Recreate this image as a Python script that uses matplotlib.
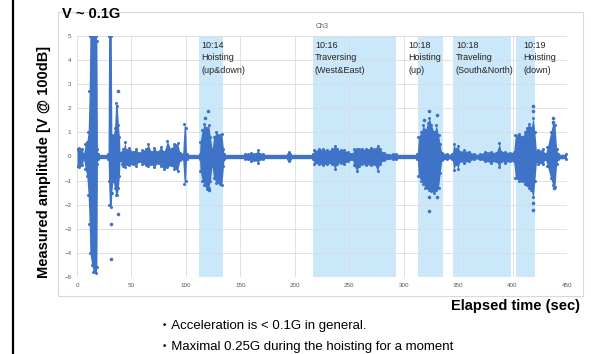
import numpy as np
import matplotlib
matplotlib.use("Agg")
import matplotlib.pyplot as plt
from matplotlib.patches import Rectangle
from matplotlib.lines import Line2D

plt.rcParams['font.family'] = ['Liberation Sans', 'Noto Sans CJK JP', 'DejaVu Sans']

BLUE = '#3f73c8'
SHADE = '#cbe8fb'

# envelope of the dense scatter: time, upper, lower
t_env = [0, 2, 5, 6, 7.5, 9, 10.2, 11.2, 11.8, 13.5, 15, 17.5, 18.3, 18.8, 19.2,
         28.5, 29, 29.7, 31.5, 32, 33, 34.5, 35.5, 37, 38, 39, 39.5,
         41, 42.5, 44, 45.5, 48, 51, 54, 57, 60, 63, 65.5, 68, 71, 74, 77, 80, 83, 86, 89, 92.5, 94.5, 97, 98.5, 99.8, 100.6,
         112.5, 113, 115, 117, 119, 121, 122.5, 124, 125.5, 128, 131, 133, 134.5, 135.2,
         154, 157, 160, 163, 166.5, 168, 171, 194, 195, 196, 216.5,
         218, 222, 226, 230, 234, 237, 239, 242, 245, 249, 251, 253, 254, 257, 259, 262, 265, 270, 273, 276, 278, 282, 290, 293,
         312.5, 313.5, 316, 318, 320, 322, 323.5, 325.5, 328, 330, 332, 333.5, 335, 340, 344.5,
         346, 348, 350, 351.5, 355, 360, 365, 370, 375, 380, 385, 388, 389.5, 393, 398, 401,
         402.5, 406, 409, 411, 413, 415, 417, 419, 420.5, 422, 423.5, 428, 430, 432, 435, 437, 439, 440.5, 442, 449.5]
up_env = [0.3, 0.35, 0.3, 0.1, 0.5, 0.6, 1.0, 2.7, 5, 5, 5, 5, 4.8, 0.3, 0.09,
          0.09, 5, 5, 5, 0.9, 0.8, 1.2, 2.2, 2.1, 1.3, 0.8, 0.15,
          0.2, 0.3, 0.6, 0.25, 0.35, 0.2, 0.3, 0.15, 0.25, 0.3, 0.5, 0.2, 0.35, 0.2, 0.4, 0.2, 0.65, 0.3, 0.5, 0.55, 0.15, 0.09, 1.35, 1.2, 0.09,
          0.09, 0.6, 1.1, 1.35, 1.2, 1.3, 0.8, 0.3, 0.8, 1.0, 0.9, 0.95, 0.3, 0.09,
          0.09, 0.12, 0.15, 0.12, 0.25, 0.1, 0.09, 0.09, 0.2, 0.09, 0.09,
          0.25, 0.3, 0.3, 0.25, 0.3, 0.45, 0.3, 0.25, 0.25, 0.2, 0.09, 0.09, 0.3, 0.3, 0.3, 0.3, 0.3, 0.35, 0.3, 0.45, 0.3, 0.15, 0.1, 0.09,
          0.09, 0.8, 1.0, 1.3, 1.1, 1.4, 1.6, 1.3, 1.0, 1.3, 0.9, 0.5, 0.15, 0.12, 0.09,
          0.5, 0.3, 0.45, 0.2, 0.25, 0.2, 0.1, 0.1, 0.2, 0.2, 0.15, 0.55, 0.2, 0.2, 0.15, 0.2,
          0.9, 0.95, 0.8, 1.0, 1.2, 1.35, 1.2, 1.6, 1.0, 0.2, 0.25, 0.3, 0.1, 0.4, 1.0, 1.4, 1.3, 0.3, 0.1, 0.09]
lo_env = [-0.4, -0.45, -0.35, -0.1, -0.5, -0.8, -1.6, -2.8, -4.0, -4.5, -4.8, -4.85, -4.6, -0.3, -0.09,
          -0.09, -1.0, -2.0, -2.1, -1.5, -1.0, -1.3, -1.6, -1.6, -1.3, -0.8, -0.15,
          -0.3, -0.4, -0.45, -0.3, -0.35, -0.3, -0.4, -0.2, -0.3, -0.35, -0.4, -0.3, -0.45, -0.25, -0.4, -0.5, -0.45, -0.35, -0.5, -0.6, -0.15, -0.09, -1.15, -1.0, -0.09,
          -0.09, -0.6, -1.0, -1.2, -1.35, -1.3, -1.0, -0.4, -0.9, -1.1, -1.15, -1.2, -0.4, -0.09,
          -0.09, -0.12, -0.18, -0.15, -0.25, -0.1, -0.09, -0.09, -0.2, -0.09, -0.09,
          -0.3, -0.3, -0.35, -0.3, -0.3, -0.5, -0.3, -0.25, -0.3, -0.2, -0.09, -0.09, -0.35, -0.6, -0.4, -0.3, -0.35, -0.35, -0.3, -0.6, -0.3, -0.15, -0.1, -0.09,
          -0.09, -0.8, -1.0, -1.15, -1.3, -1.3, -1.4, -1.45, -1.5, -1.4, -1.3, -0.7, -0.15, -0.12, -0.09,
          -0.55, -0.3, -0.5, -0.2, -0.25, -0.2, -0.1, -0.12, -0.2, -0.25, -0.2, -0.45, -0.2, -0.25, -0.2, -0.2,
          -0.9, -1.0, -1.0, -1.15, -1.2, -1.3, -1.4, -1.7, -1.0, -0.2, -0.3, -0.3, -0.1, -0.4, -0.9, -1.2, -1.25, -0.3, -0.1, -0.09]

# isolated points outside the envelope
out_t = [31, 31, 38, 37.2, 120, 118, 121, 323.5, 330.9, 318.5, 323.5, 330.9, 323.5, 419, 419, 419, 419, 437.5, 437, 438]
out_v = [-2.8, -4.25, -2.4, 2.7, 1.9, 1.6, -1.4, 1.87, 1.73, 1.5, -1.7, -1.7, -2.27, 2.1, 1.9, -2.2, -1.95, 1.6, 1.45, -1.3]

# operation periods
span_start = [112, 217, 313, 345, 403]
span_end = [134, 293, 336, 399, 421]
notes = ["10:14\nHoisting\n(up&down)", "10:16\nTraversing\n(West&East)", "10:18\nHoisting\n(up)",
         "10:18\nTraveling\n(South&North)", "10:19\nHoisting\n(down)"]
note_x = [114, 218.5, 304, 348, 410]

W, H = 591, 354
fig = plt.figure(figsize=(W/100, H/100), dpi=100)
fig.patch.set_facecolor('white')

ax = fig.add_axes([77/W, 1-277/H, (567-77)/W, (277-36)/H])
ax.set_xlim(0, 450)
ax.set_ylim(-5, 5)
ax.set_xticks(np.arange(0, 451, 50))
ax.set_yticks(np.arange(-5, 6, 1))
ax.set_axisbelow(True)
ax.grid(True, color='#dcdcdc', lw=0.6)
for s in ax.spines.values():
    s.set_visible(False)
ax.tick_params(length=0, labelsize=4.5, labelcolor='#595959', pad=4)

for a, b in zip(span_start, span_end):
    ax.axvspan(a, b, color=SHADE, zorder=0.3, lw=0)

ax.fill_between(t_env, lo_env, up_env, color=BLUE, lw=0, zorder=2)
ax.plot(t_env, up_env, 'o', color=BLUE, ms=2.2, mew=0, zorder=2)
ax.plot(t_env, lo_env, 'o', color=BLUE, ms=2.2, mew=0, zorder=2)
ax.plot(out_t, out_v, 'o', color=BLUE, ms=2.6, mew=0, zorder=2)

for x, s in zip(note_x, notes):
    ax.text(x, 4.78, s, fontsize=6.5, va='top', ha='left', linespacing=1.45, color='#222222', zorder=3)

ax.set_title("Ch3", fontsize=5, color='#595959', pad=6)

# chart frame and slide decorations
fig.add_artist(Rectangle((58/W, 1-296/H), (583-58)/W, (296-12)/H, transform=fig.transFigure,
                         fill=False, edgecolor='#d9d9d9', lw=0.8))
fig.add_artist(Line2D([13/W, 13/W], [0, 1], transform=fig.transFigure, color='black', lw=1.6))

fig.text(62/W, 1-14/H, "V ~ 0.1G", fontsize=10.5, fontweight='bold', va='center', ha='left')
fig.text(44/W, 1-162/H, "Measured amplitude [V @ 100dB]", fontsize=10.5, fontweight='bold',
         rotation=90, va='center', ha='center')
fig.text(580/W, 1-306/H, "Elapsed time (sec)", fontsize=10.5, fontweight='bold', va='center', ha='right')
fig.text(158/W, 1-326/H, "・Acceleration is < 0.1G in general.", fontsize=9.5, va='center', ha='left')
fig.text(158/W, 1-347/H, "・Maximal 0.25G during the hoisting for a moment", fontsize=9.5, va='center', ha='left')

fig.savefig("out.png", dpi=100)
